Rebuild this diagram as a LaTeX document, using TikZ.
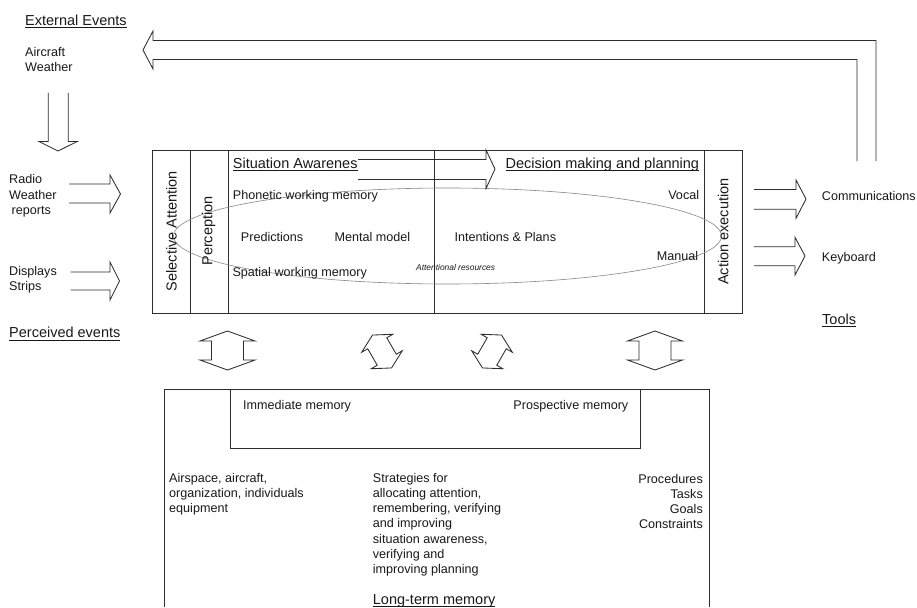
\documentclass[tikz,border=0pt]{standalone}
\usepackage{fontspec}
\setmainfont{Liberation Sans}
\definecolor{ink}{RGB}{45,45,45}
\definecolor{txtc}{RGB}{25,25,25}
\definecolor{ellc}{RGB}{135,135,135}
\newcommand{\hdul}[1]{\leavevmode\setbox0=\hbox{#1}\rlap{\vrule width\wd0 height -1.6pt depth 2.5pt}\box0}
\tikzset{
 box/.style={draw=ink, line width=1pt},
 blk/.style={draw=ink, line width=0.85pt, line join=miter},
 txt/.style={inner sep=0pt, font=\fontsize{12.6}{15.2}\selectfont, text=txtc},
 hd/.style={inner sep=0pt, font=\fontsize{14.5}{17}\selectfont, text=txtc},
 smalltxt/.style={inner sep=0pt, font=\fontsize{8.4}{10}\selectfont\itshape, text=txtc},
 pics/dblv/.style={code={\draw[blk] (0,-19.5) -- (27.5,-9.5) -- (16,-9.5) -- (16,9.5) -- (27.5,9.5) -- (0,19.5) -- (-27.5,9.5) -- (-16,9.5) -- (-16,-9.5) -- (-27.5,-9.5) -- cycle;}},
 pics/dbls/.style={code={\draw[blk] (0,-19) -- (18,-9.5) -- (11,-9.5) -- (11,9.5) -- (18,9.5) -- (0,19) -- (-18,9.5) -- (-11,9.5) -- (-11,-9.5) -- (-18,-9.5) -- cycle;}},
}
\begin{document}
\begin{tikzpicture}[x=1pt,y=-1pt]
\useasboundingbox (0,0) rectangle (917,607);
\fill[white] (0,0) rectangle (917,607);

% ---------- main box ----------
\draw[box] (152,150) rectangle (742,313);
\foreach \xx in {190,228,434,704} \draw[box] (\xx,150) -- (\xx,313);
\draw[ellc, line width=0.6pt] (447.5,236) ellipse [x radius=274pt, y radius=48pt];
% arrow from SA to decision making
\draw[blk] (358,159.5) -- (486,159.5) -- (486,150) -- (495,169) -- (486,188.5) -- (486,179.5) -- (358,179.5);

\node[hd, rotate=90] (selatt) at (171.5,231) {Selective Attention};
\node[hd, rotate=90] (percep) at (208.5,231) {Perception};
\node[hd, rotate=90] (actex) at (723.3,231.5) {Action execution};

\node[hd, anchor=base west] (sa) at (232.7,168.5) {\hdul{Situation Awarenes}};
\node[hd, anchor=base east] (dmp) at (699.3,168.5) {\hdul{Decision making and planning}};
\node[txt, anchor=base west] (phon) at (232.7,199.5) {Phonetic working memory};
\node[txt, anchor=base west] (pred) at (240.7,241.2) {Predictions};
\node[txt, anchor=base west] (mental) at (334.3,241.2) {Mental model};
\node[txt, anchor=base west] (intent) at (454.3,241.2) {Intentions \& Plans};
\node[txt, anchor=base west] (spatial) at (232.3,276.8) {Spatial working memory};
\node[smalltxt, anchor=base west] (attres) at (416,270.5) {Attentional resources};
\node[txt, anchor=base east] (vocal) at (699.3,199.5) {Vocal};
\node[txt, anchor=base east] (manual) at (698.3,260.5) {Manual};

% ---------- external events and feedback ----------
\node[hd, anchor=base west] (extev) at (25,25.9) {\hdul{External Events}};
\node[txt, anchor=base west, align=left] (acw) at (25,72) {Aircraft\\Weather};
\draw[blk] (876,161) -- (876,40.5) -- (153,40.5) -- (153,31) -- (143,50) -- (153,69) -- (153,59.5) -- (857,59.5) -- (857,161);
\draw[blk] (48.3,93) -- (48.3,141.5) -- (39,141.5) -- (58,151) -- (77.3,141.5) -- (68.3,141.5) -- (68.3,93);

% ---------- perceived events ----------
\node[txt, anchor=base west, align=left] (radio) at (9,214.2) {Radio\\Weather\\\hspace{2.5pt}reports};
\node[txt, anchor=base west, align=left] (disp) at (9,290.4) {Displays\\Strips};
\node[hd, anchor=base west] (percev) at (9,337.9) {\hdul{Perceived events}};
\draw[blk] (69,184) -- (110,184) -- (110,175) -- (120.5,194) -- (110,213) -- (110,203) -- (69,203);
\draw[blk] (70.5,272) -- (110,272) -- (110,262) -- (119.5,281) -- (110,300) -- (110,290) -- (70.5,290);

% ---------- tools ----------
\draw[blk] (754,189.5) -- (796,189.5) -- (796,180) -- (806,199) -- (796,218.3) -- (796,209.3) -- (754,209.3);
\draw[blk] (754,246.7) -- (795,246.7) -- (795,237.3) -- (805,256) -- (795,275) -- (795,265.7) -- (754,265.7);
\node[txt, anchor=base west] (comm) at (821.7,200.5) {Communications};
\node[txt, anchor=base west] (keyb) at (821.7,261.2) {Keyboard};
\node[hd, anchor=base west] (tools) at (822,324.2) {\hdul{Tools}};

% ---------- double arrows ----------
\pic at (227.5,350.5) {dblv};
\pic at (655,350.5) {dblv};
\pic[rotate=30] at (382,351.5) {dbls};
\pic[rotate=-30] at (492,351.5) {dbls};

% ---------- long-term memory ----------
\draw[box] (164,607) -- (164,389) -- (709.5,389) -- (709.5,607);
\draw[box] (230.5,389) rectangle (640,448);
\node[txt, anchor=base west] (immem) at (243,409.5) {Immediate memory};
\node[txt, anchor=base east] (prosmem) at (628.5,409.5) {Prospective memory};
\node[txt, anchor=base west, align=left] (airsp) at (169,512.7) {Airspace, aircraft,\\organization, individuals\\equipment};
\node[txt, anchor=base west, align=left] (strat) at (372.7,573.5) {Strategies for\\allocating attention,\\remembering, verifying\\and improving\\situation awareness,\\verifying and\\improving planning};
\node[txt, anchor=base east, align=right] (proc) at (703,528.9) {Procedures\\Tasks\\Goals\\Constraints};
\node[hd, anchor=base west] (ltm) at (372.7,604.3) {\hdul{Long-term memory}};
\end{tikzpicture}
\end{document}
